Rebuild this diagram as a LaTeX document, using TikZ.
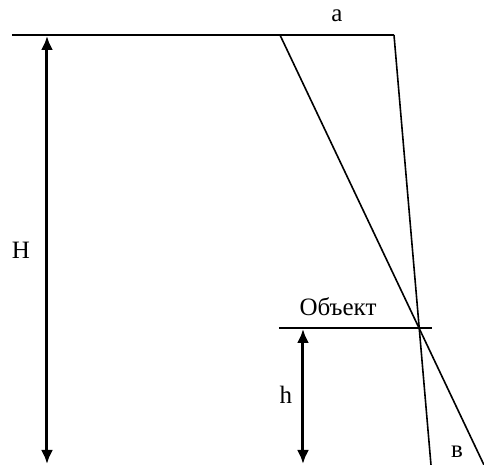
\documentclass[tikz,border=0pt]{standalone}
\usepackage{fontspec}
\setmainfont{Liberation Serif}
\usepackage{tikz}
\usetikzlibrary{arrows.meta,positioning,calc}
\tikzset{
  base/.style={line width=1pt},
  ray/.style={line width=0.8pt},
  dim/.style={line width=1.5pt, {Latex[length=7pt,width=6pt]}-{Latex[length=7pt,width=6pt]}},
  lbl/.style={font=\fontsize{12.5}{14}\selectfont, inner sep=1pt}
}
\begin{document}
\begin{tikzpicture}[x=0.5pt,y=-0.5pt]
\useasboundingbox (0,0) rectangle (484,465);
% top base
\coordinate (tl) at (12,35);
\coordinate (ta) at (280,35);
\coordinate (tb) at (394,35);
\draw[base] (tl) -- (tb);
\node[lbl] (a) at (337,16) {a};
% rays
\coordinate (ra) at (484,465);
\coordinate (rb) at (431,465);
\draw[ray] (ta) -- (ra);
\draw[ray] (tb) -- (rb);
% object
\coordinate (ol) at (279,328);
\coordinate (or) at (432,328);
\draw[base] (ol) -- (or);
\node[lbl] (obj) at (338,307) {Объект};
% heights
\coordinate (Ht) at (47,36);
\coordinate (Hb) at (47,464);
\draw[dim] (Ht) -- (Hb);
\node[lbl] (H) at (21,250) {H};
\coordinate (ht) at (303,329);
\coordinate (hb) at (303,464);
\draw[dim] (ht) -- (hb);
\node[lbl] (h) at (286,395) {h};
\node[lbl] (v) at (457,452) {в};
\end{tikzpicture}
\end{document}
